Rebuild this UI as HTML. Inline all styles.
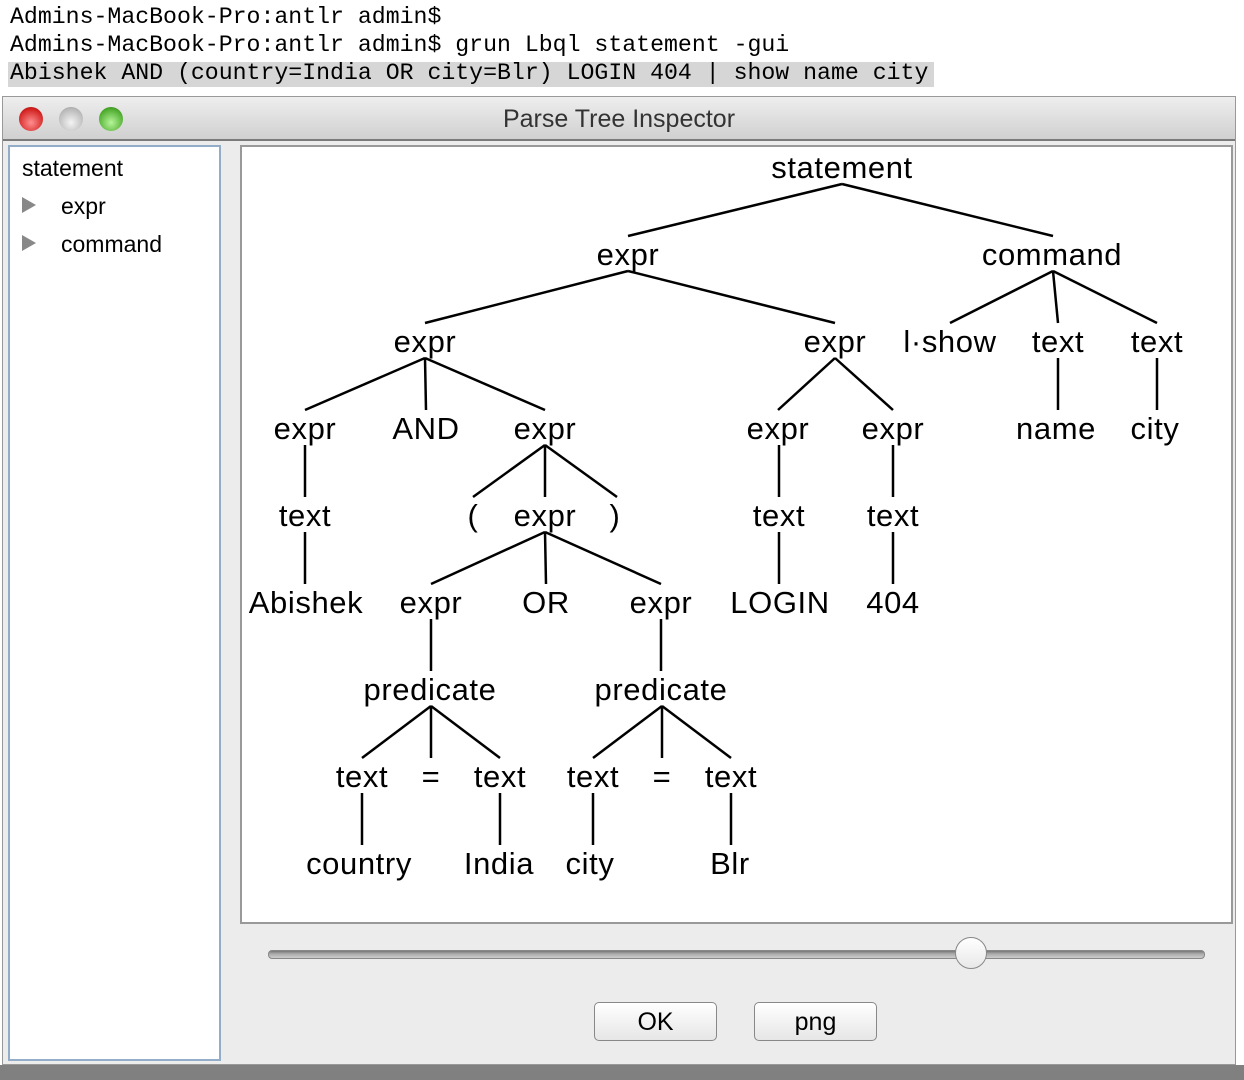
<!DOCTYPE html>
<html><head><meta charset="utf-8"><style>
body{margin:0;width:1244px;height:1080px;background:#fff;position:relative;overflow:hidden;font-family:"Liberation Sans",sans-serif}
.term{position:absolute;left:10px;font-family:"Liberation Mono",monospace;font-size:23.2px;color:#000;white-space:pre;line-height:24px}
.win{position:absolute;left:2px;top:96px;width:1234px;height:969px;background:#ececec;border:1px solid #999;box-sizing:border-box}
.title{position:absolute;left:0;top:0;width:100%;height:44px;background:linear-gradient(#eeeeee,#d0d0d0);border-bottom:2px solid #7a7a7a;box-sizing:border-box;text-align:center;font-size:25px;color:#333;line-height:44px}
.dot{position:absolute;top:10px;width:24px;height:24px;border-radius:50%}
.left{position:absolute;left:5px;top:48px;width:213px;height:916px;background:#fff;border:2px solid #93acc8;box-sizing:border-box;font-size:23px}
.tp{position:absolute;left:237px;top:48px;width:993px;height:779px;background:#fff;border:2px solid #999;box-sizing:border-box}
.btn{position:absolute;top:905px;width:123px;height:39px;border:1px solid #888;border-radius:5px;background:linear-gradient(#fff,#e6e6e6);box-sizing:border-box;text-align:center;font-size:25px;line-height:38px}
</style></head><body>
<div style="position:absolute;left:8px;top:62px;width:926px;height:25px;background:#d6d6d6"></div>
<div class="term" style="top:5px">Admins-MacBook-Pro:antlr admin$</div>
<div class="term" style="top:33px">Admins-MacBook-Pro:antlr admin$ grun Lbql statement -gui</div>
<div class="term" style="top:61px">Abishek AND (country=India OR city=Blr) LOGIN 404 | show name city</div>
<div style="position:absolute;left:0;top:1065px;width:1244px;height:15px;background:#808080"></div>
<div class="win">
<div class="title">Parse Tree Inspector
<div class="dot" style="left:16px;background:radial-gradient(circle at 50% 65%,#ff8f8f,#d21f1f 70%,#8c1010)"></div>
<div class="dot" style="left:56px;background:radial-gradient(circle at 50% 65%,#f4f4f4,#b8b8b8 70%,#888)"></div>
<div class="dot" style="left:96px;background:radial-gradient(circle at 50% 65%,#b6f59a,#4caa2c 70%,#2d6d18)"></div>
</div>
<div class="left">
<div style="position:absolute;left:12px;top:8px">statement</div>
<div style="position:absolute;left:12px;top:50px;width:0;height:0;border-left:14px solid #888;border-top:8px solid transparent;border-bottom:8px solid transparent"></div>
<div style="position:absolute;left:51px;top:46px">expr</div>
<div style="position:absolute;left:12px;top:88px;width:0;height:0;border-left:14px solid #888;border-top:8px solid transparent;border-bottom:8px solid transparent"></div>
<div style="position:absolute;left:51px;top:84px">command</div>
</div>
<div class="tp"></div>
<div style="position:absolute;left:265px;top:853px;width:937px;height:9px;border-radius:4px;background:linear-gradient(#777,#aaa 40%,#ccc);border:1px solid #888;box-sizing:border-box"></div>
<div style="position:absolute;left:952px;top:840px;width:32px;height:32px;border-radius:50%;background:linear-gradient(#fff,#e8e8e8);border:1px solid #888;box-sizing:border-box"></div>
<div class="btn" style="left:591px">OK</div>
<div class="btn" style="left:751px">png</div>
</div>
<svg style="position:absolute;left:0;top:0" width="1244" height="1080" font-family="Liberation Sans, sans-serif" font-size="31" letter-spacing="0.6" text-anchor="middle">
<g stroke="#000" stroke-width="2.5" fill="none">
<line x1="842" y1="184" x2="628" y2="236"/><line x1="842" y1="184" x2="1053" y2="236"/>
<line x1="628" y1="271" x2="425" y2="323"/><line x1="628" y1="271" x2="835" y2="323"/>
<line x1="1053" y1="271" x2="950" y2="323"/><line x1="1053" y1="271" x2="1058" y2="323"/><line x1="1053" y1="271" x2="1157" y2="323"/>
<line x1="425" y1="358" x2="305" y2="410"/><line x1="425" y1="358" x2="426" y2="410"/><line x1="425" y1="358" x2="545" y2="410"/>
<line x1="835" y1="358" x2="778" y2="410"/><line x1="835" y1="358" x2="893" y2="410"/>
<line x1="1058" y1="358" x2="1058" y2="410"/><line x1="1157" y1="358" x2="1157" y2="410"/>
<line x1="305" y1="445" x2="305" y2="497"/>
<line x1="545" y1="445" x2="473" y2="497"/><line x1="545" y1="445" x2="545" y2="497"/><line x1="545" y1="445" x2="617" y2="497"/>
<line x1="779" y1="445" x2="779" y2="497"/><line x1="893" y1="445" x2="893" y2="497"/>
<line x1="305" y1="532" x2="305" y2="584"/>
<line x1="545" y1="532" x2="431" y2="584"/><line x1="545" y1="532" x2="546" y2="584"/><line x1="545" y1="532" x2="661" y2="584"/>
<line x1="779" y1="532" x2="779" y2="584"/><line x1="893" y1="532" x2="893" y2="584"/>
<line x1="431" y1="619" x2="431" y2="671"/><line x1="661" y1="619" x2="661" y2="671"/>
<line x1="431" y1="706" x2="362" y2="758"/><line x1="431" y1="706" x2="431" y2="758"/><line x1="431" y1="706" x2="500" y2="758"/>
<line x1="662" y1="706" x2="593" y2="758"/><line x1="662" y1="706" x2="662" y2="758"/><line x1="662" y1="706" x2="731" y2="758"/>
<line x1="362" y1="793" x2="362" y2="845"/><line x1="500" y1="793" x2="500" y2="845"/>
<line x1="593" y1="793" x2="593" y2="845"/><line x1="731" y1="793" x2="731" y2="845"/>
</g>
<g fill="#000">
<text x="842" y="178">statement</text>
<text x="628" y="265">expr</text><text x="1052" y="265">command</text>
<text x="425" y="352">expr</text><text x="835" y="352">expr</text><text x="950" y="352">l·show</text><text x="1058" y="352">text</text><text x="1157" y="352">text</text>
<text x="305" y="439">expr</text><text x="426" y="439">AND</text><text x="545" y="439">expr</text><text x="778" y="439">expr</text><text x="893" y="439">expr</text><text x="1056" y="439">name</text><text x="1155" y="439">city</text>
<text x="305" y="526">text</text><text x="473" y="526">(</text><text x="545" y="526">expr</text><text x="615" y="526">)</text><text x="779" y="526">text</text><text x="893" y="526">text</text>
<text x="306" y="613">Abishek</text><text x="431" y="613">expr</text><text x="546" y="613">OR</text><text x="661" y="613">expr</text><text x="780" y="613">LOGIN</text><text x="893" y="613">404</text>
<text x="430" y="700">predicate</text><text x="661" y="700">predicate</text>
<text x="362" y="787">text</text><text x="431" y="787">=</text><text x="500" y="787">text</text><text x="593" y="787">text</text><text x="662" y="787">=</text><text x="731" y="787">text</text>
<text x="359" y="874">country</text><text x="499" y="874">India</text><text x="590" y="874">city</text><text x="730" y="874">Blr</text>
</g>
</svg>
</body></html>
